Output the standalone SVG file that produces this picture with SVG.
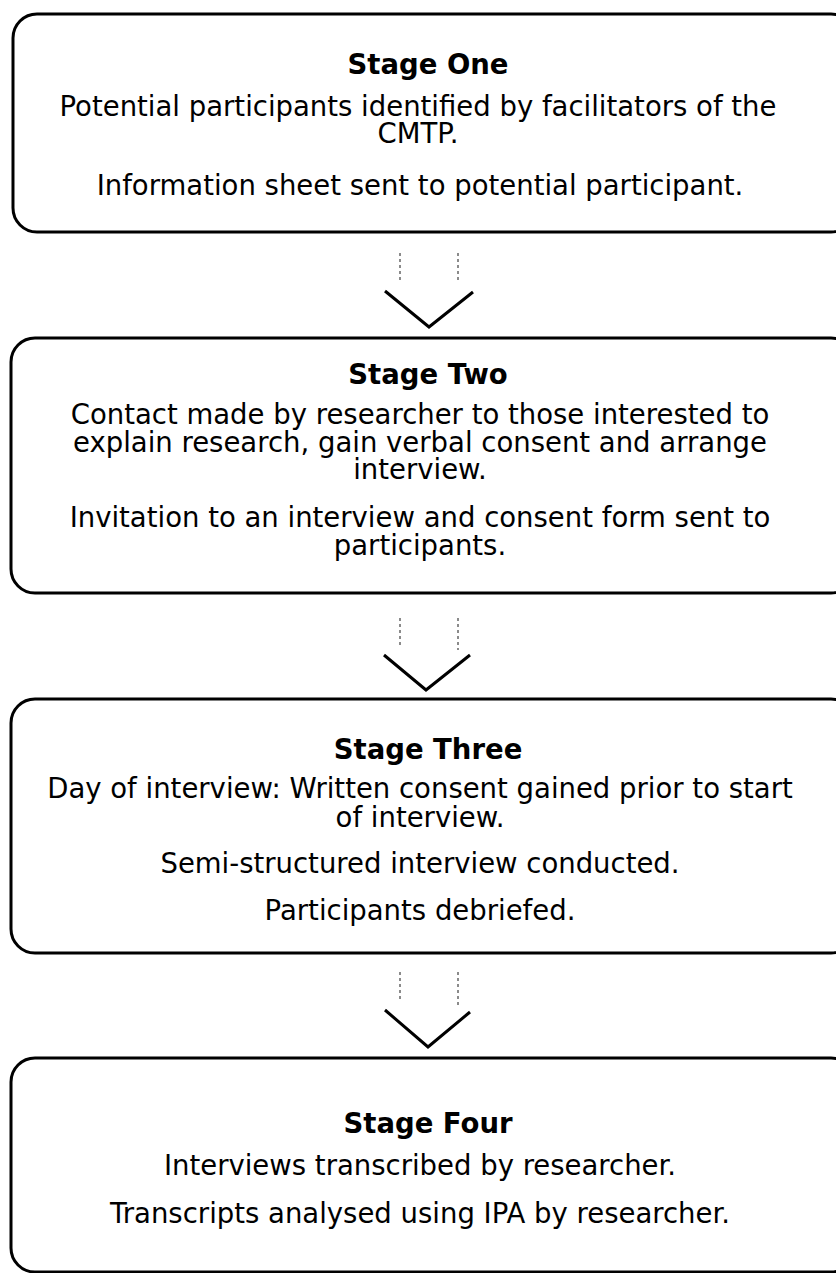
<svg xmlns="http://www.w3.org/2000/svg" width="836" height="1273" viewBox="0 0 836 1273">
<style>
.box{fill:#fff;stroke:#000;stroke-width:3}
.t{font-family:"DejaVu Sans",Verdana,sans-serif;font-size:27.5px;fill:#000;text-anchor:middle}
.h{font-weight:bold}
.ch{fill:none;stroke:#000;stroke-width:3}
.dl{fill:none;stroke:#666;stroke-width:1.5;stroke-dasharray:3 3}
</style>
<rect width="836" height="1273" fill="#fff"/>
<g id="connectors">
<line class="dl" x1="400" y1="253" x2="400" y2="282"/><line class="dl" x1="458" y1="253" x2="458" y2="283"/>
<polyline class="ch" points="385,291 429,327 473,292"/>
<line class="dl" x1="400" y1="618" x2="400" y2="648"/><line class="dl" x1="458" y1="618" x2="458" y2="650"/>
<polyline class="ch" points="384,655 426,690 470,655"/>
<line class="dl" x1="400" y1="972" x2="400" y2="1002"/><line class="dl" x1="458" y1="972" x2="458" y2="1005"/>
<polyline class="ch" points="385,1010 428,1047 470,1012"/>
</g>
<g id="stage1">
<rect class="box" x="13" y="14" width="842" height="218" rx="24"/>
<text class="t h" x="428" y="74">Stage One</text>
<text class="t" x="418" y="116">Potential participants identified by facilitators of the<tspan x="418" y="143">CMTP.</tspan></text>
<text class="t" x="420" y="195">Information sheet sent to potential participant.</text>
</g>
<g id="stage2">
<rect class="box" x="11" y="338" width="844" height="255" rx="24"/>
<text class="t h" x="428" y="384">Stage Two</text>
<text class="t" x="420" y="424">Contact made by researcher to those interested to<tspan x="420" y="452">explain research, gain verbal consent and arrange</tspan><tspan x="420" y="479">interview.</tspan></text>
<text class="t" x="420" y="527">Invitation to an interview and consent form sent to<tspan x="420" y="555">participants.</tspan></text>
</g>
<g id="stage3">
<rect class="box" x="11" y="699" width="844" height="254" rx="24"/>
<text class="t h" x="428" y="759">Stage Three</text>
<text class="t" x="420" y="798">Day of interview: Written consent gained prior to start<tspan x="420" y="827">of interview.</tspan></text>
<text class="t" x="420" y="873">Semi-structured interview conducted.</text>
<text class="t" x="420" y="920">Participants debriefed.</text>
</g>
<g id="stage4">
<rect class="box" x="11" y="1058" width="844" height="214" rx="24"/>
<text class="t h" x="428" y="1133">Stage Four</text>
<text class="t" x="420" y="1175">Interviews transcribed by researcher.</text>
<text class="t" x="420" y="1223">Transcripts analysed using IPA by researcher.</text>
</g>
</svg>
